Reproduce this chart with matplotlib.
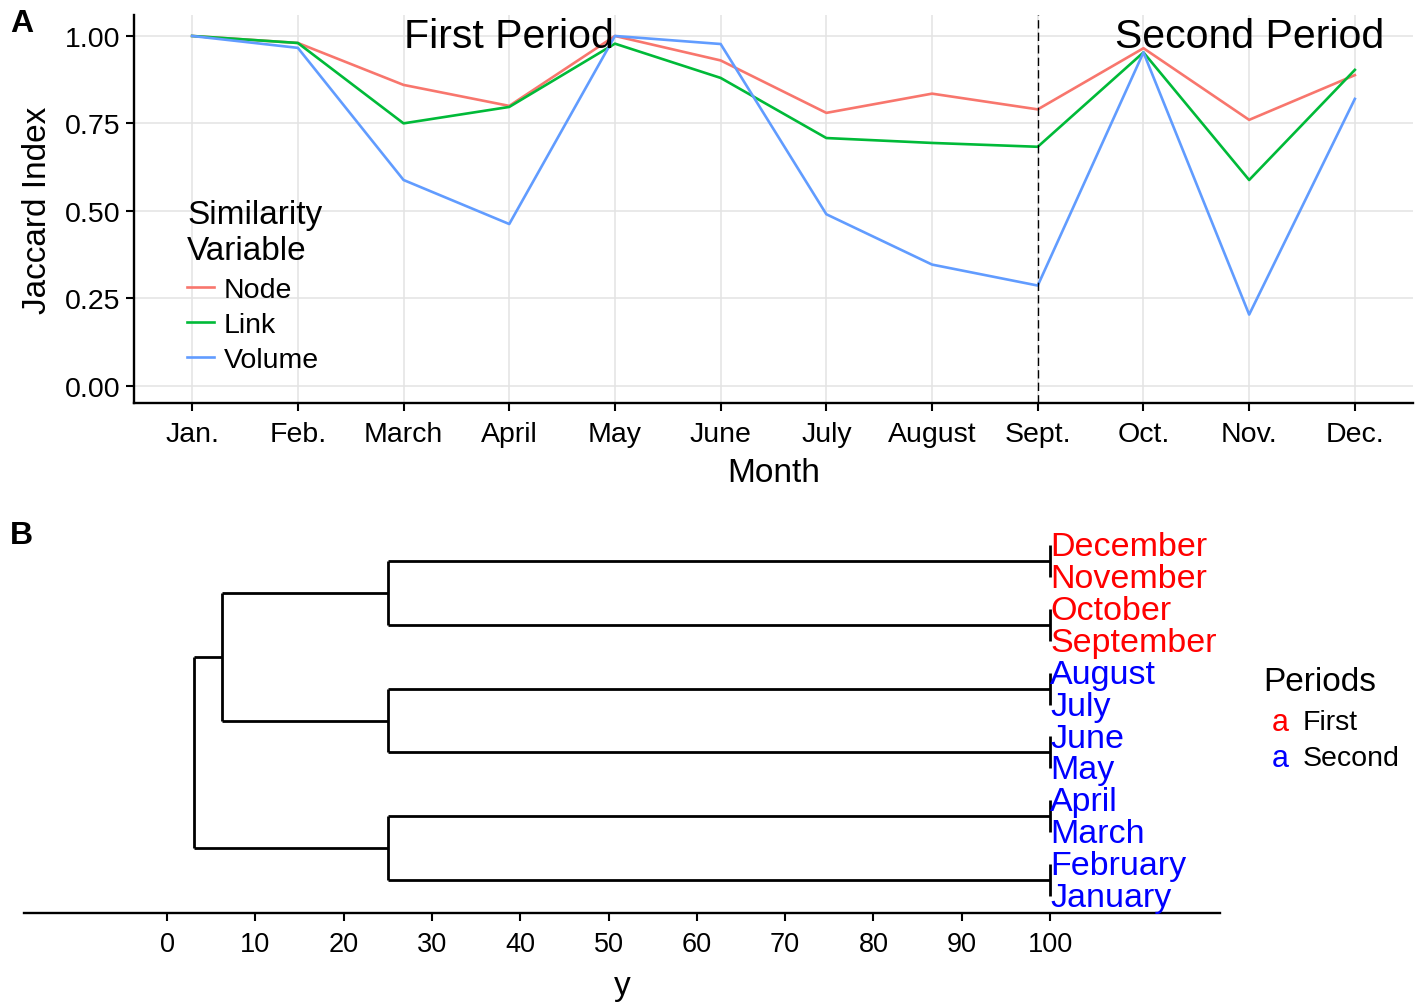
import matplotlib
matplotlib.use("Agg")
import matplotlib.pyplot as plt
import numpy as np

plt.rcParams['font.family'] = ['Liberation Sans', 'DejaVu Sans']

# --- Panel A data ---
Months = ["Jan.", "Feb.", "March", "April", "May", "June",
          "July", "August", "Sept.", "Oct.", "Nov.", "Dec."]
Node = [1.00, 0.98, 0.86, 0.80, 1.00, 0.93, 0.78, 0.835, 0.79, 0.965, 0.76, 0.888]
Link = [1.00, 0.98, 0.75, 0.797, 0.978, 0.88, 0.708, 0.694, 0.683, 0.953, 0.588, 0.903]
Volume = [1.00, 0.966, 0.588, 0.462, 1.00, 0.977, 0.49, 0.346, 0.286, 0.953, 0.203, 0.82]
Series_names = ["Node", "Link", "Volume"]
Series_colours = ["#F8766D", "#00BA38", "#619CFF"]
Period_split = "Sept."
Period_labels = ["First Period", "Second Period"]
Period_label_pos = ["April", "Nov."]

# --- Panel B data ---
# leaves from top to bottom, and the merge tree with its heights
Leaves = ["December", "November", "October", "September", "August", "July",
          "June", "May", "April", "March", "February", "January"]
Leaf_period = ["First"] * 4 + ["Second"] * 8
Leaf_height = 100
Tree = (3.1, [(6.2, [(25, [(100, ["December", "November"]),
                           (100, ["October", "September"])]),
                     (25, [(100, ["August", "July"]),
                           (100, ["June", "May"])])]),
              (25, [(100, ["April", "March"]),
                    (100, ["February", "January"])])])
Period_colour = {"First": "red", "Second": "blue"}


fig = plt.figure(figsize=(14.19, 10.04), dpi=100)
W, H = 1419, 1004

# ---------------- PANEL A ----------------
axA = fig.add_axes([134 / W, 1 - 404 / H, (1413 - 134) / W, (404 - 16) / H])
x = np.arange(len(Months))
for vals, name, col in zip([Node, Link, Volume], Series_names, Series_colours):
    axA.plot(x, vals, color=col, lw=1.9, label=name, zorder=3)

axA.axvline(Months.index(Period_split), color="black", lw=1.0,
            linestyle=(0, (6, 3)), zorder=4)
for lab, pos in zip(Period_labels, Period_label_pos):
    axA.text(Months.index(pos), 1.0, lab, ha="center", va="center",
             fontsize=29.5, zorder=5)

axA.set_xlim(-0.55, 11.55)
axA.set_ylim(-0.05, 1.06)
axA.set_xticks(x)
axA.set_xticklabels(Months, fontsize=20.5)
axA.set_yticks([0, 0.25, 0.5, 0.75, 1.0])
axA.set_yticklabels(["0.00", "0.25", "0.50", "0.75", "1.00"], fontsize=20.5)
axA.grid(True, color="#e3e3e3", lw=1.1, zorder=0)
axA.set_axisbelow(True)
for s in ["top", "right"]:
    axA.spines[s].set_visible(False)
for s in ["left", "bottom"]:
    axA.spines[s].set_linewidth(1.7)
axA.tick_params(length=6, width=1.5)
axA.tick_params(axis="x", pad=7)
axA.tick_params(axis="y", pad=4)
axA.set_xlabel("Month", fontsize=24, labelpad=7)
axA.set_ylabel("Jaccard Index", fontsize=24, labelpad=8)

leg = axA.legend(title="Similarity\nVariable", fontsize=20.5, title_fontsize=24,
                 frameon=False, loc="upper left",
                 bbox_to_anchor=(187 / W, 1 - 200 / H), bbox_transform=fig.transFigure,
                 handlelength=0.95, handletextpad=0.35, labelspacing=0.32,
                 borderpad=0, borderaxespad=0, alignment="left")
leg._legend_box.sep = 8
for ln in leg.get_lines():
    ln.set_linewidth(1.9)

fig.text(10 / W, 1 - 24 / H, "A", fontsize=23, fontweight="bold", va="center")
fig.text(10 / W, 1 - 536 / H, "B", fontsize=23, fontweight="bold", va="center")

# ---------------- PANEL B ----------------
axB = fig.add_axes([24 / W, 1 - 914 / H, (1220 - 24) / W, (914 - 530) / H])
leaf_y = {name: len(Leaves) - i for i, name in enumerate(Leaves)}


def draw(node):
    # returns x, y of a node and draws its links
    if isinstance(node, str):
        return Leaf_height, leaf_y[node]
    h, kids = node
    pts = [draw(k) for k in kids]
    for px, py in pts:
        axB.plot([px, h], [py, py], color="black", lw=2.0,
                 solid_capstyle="butt", zorder=3)
    ys = [p[1] for p in pts]
    axB.plot([h, h], [min(ys), max(ys)], color="black", lw=2.0,
             solid_capstyle="butt", zorder=3)
    return h, np.mean(ys)


draw(Tree)
for name, per in zip(Leaves, Leaf_period):
    axB.text(Leaf_height, leaf_y[name] - 0.05, name, ha="left", va="center",
             fontsize=24.5, color=Period_colour[per], clip_on=False)

axB.set_xlim(-16.2, 119.25)
axB.set_ylim(0.47, 12.5)
axB.set_xticks(np.arange(0, 101, 10))
axB.tick_params(axis="x", labelsize=19.5, length=6, width=1.5, pad=7)
axB.set_yticks([])
for s in ["top", "right", "left"]:
    axB.spines[s].set_visible(False)
axB.spines["bottom"].set_linewidth(1.7)
axB.set_xlabel("y", fontsize=24, labelpad=9)

# period legend
fig.text(1263 / W, 1 - 683 / H, "Periods", fontsize=24, va="center", ha="left")
for i, per in enumerate(["First", "Second"]):
    yy = 1 - (723 + 36 * i) / H
    fig.text(1280 / W, yy, "a", fontsize=22, color=Period_colour[per],
             va="center", ha="center")
    fig.text(1303 / W, yy, per, fontsize=20.5, va="center", ha="left")

fig.savefig("out.png", dpi=100)
